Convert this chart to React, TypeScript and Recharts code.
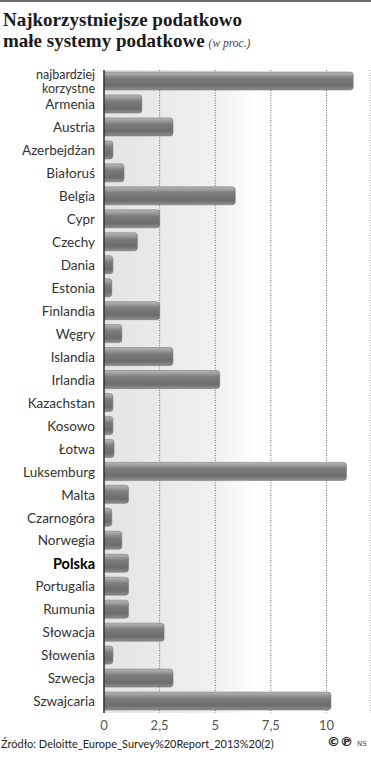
import { BarChart, Bar, XAxis, YAxis, CartesianGrid } from 'recharts';

// ── Data ──────────────────────────────────────────────────────────────────────

const COUNTRIES: string[] = [
  'najbardziej korzystne',
  'Armenia',
  'Austria',
  'Azerbejdżan',
  'Białoruś',
  'Belgia',
  'Cypr',
  'Czechy',
  'Dania',
  'Estonia',
  'Finlandia',
  'Węgry',
  'Islandia',
  'Irlandia',
  'Kazachstan',
  'Kosowo',
  'Łotwa',
  'Luksemburg',
  'Malta',
  'Czarnogóra',
  'Norwegia',
  'Polska',
  'Portugalia',
  'Rumunia',
  'Słowacja',
  'Słowenia',
  'Szwecja',
  'Szwajcaria',
];

const VALUES: number[] = [
  11.2, 1.7, 3.1, 0.4, 0.9, 5.9, 2.5, 1.5, 0.4, 0.35, 2.5, 0.8, 3.1, 5.2, 0.4, 0.4,
  0.45, 10.9, 1.1, 0.35, 0.8, 1.1, 1.1, 1.1, 2.7, 0.4, 3.1, 10.2,
];

const X_TICKS: number[] = [0, 2.5, 5, 7.5, 10];

const HIGHLIGHT = 'Polska';

const data = COUNTRIES.map((name, i) => ({ name, value: VALUES[i] }));

const LABEL_FONT = 'Lato, "Open Sans", sans-serif';
const TITLE_FONT = '"Liberation Serif", serif';

// ── Custom y tick ─────────────────────────────────────────────────────────────

function CountryTick(props: any) {
  const { x, y, payload } = props;
  const label: string = payload.value;
  const bold = label === HIGHLIGHT;

  // the first category is broken onto two lines
  if (label === 'najbardziej korzystne') {
    return (
      <text x={x - 1} y={y} textAnchor="end" fontFamily={LABEL_FONT} fontSize={12.5} fill="#333">
        <tspan x={x - 1} dy={-2.7}>najbardziej</tspan>
        <tspan x={x - 1} dy={14}>korzystne</tspan>
      </text>
    );
  }

  return (
    <text
      x={x - 1}
      y={y}
      dy="0.35em"
      textAnchor="end"
      fontFamily={LABEL_FONT}
      fontSize={bold ? 14.5 : 13.5}
      fontWeight={bold ? 700 : 400}
      fill={bold ? '#000' : '#333'}
    >
      {label}
    </text>
  );
}

// ── Component ─────────────────────────────────────────────────────────────────

export default function App() {
  return (
    <div style={{ position: 'relative', width: 371, height: 760, background: '#fff', overflow: 'hidden' }}>
      <style>{'body{margin:0}'}</style>

      {/* top rule + title */}
      <svg width={371} height={60} style={{ position: 'absolute', left: 0, top: 0 }}>
        <rect x={0} y={0} width={371} height={2} fill="#6a6a6a" />
        <text x={3} y={26} fontFamily={TITLE_FONT} fontWeight={700} fontSize={19} fill="#1a1a1a">
          Najkorzystniejsze podatkowo
        </text>
        <text x={3} y={47} fontFamily={TITLE_FONT} fontWeight={700} fontSize={19} fill="#1a1a1a">
          małe systemy podatkowe
          <tspan dx={4} fontStyle="italic" fontWeight={400} fontSize={11.5} fill="#444">
            (w proc.)
          </tspan>
        </text>
      </svg>

      {/* chart */}
      <div style={{ position: 'absolute', left: 0, top: 60 }}>
        <BarChart
          width={371}
          height={690}
          data={data}
          layout="vertical"
          margin={{ top: 10, right: 0, left: 0, bottom: 0 }}
          barCategoryGap={0}
        >
          <defs>
            <linearGradient id="bgGrad" x1="0" y1="0" x2="1" y2="0">
              <stop offset="0%" stopColor="#e4e4e4" />
              <stop offset="40%" stopColor="#efefef" />
              <stop offset="58%" stopColor="#ffffff" />
              <stop offset="100%" stopColor="#ffffff" />
            </linearGradient>
            <linearGradient id="barGrad" x1="0" y1="0" x2="0" y2="1">
              <stop offset="0%" stopColor="#b8b8b8" />
              <stop offset="35%" stopColor="#7c7c7c" />
              <stop offset="75%" stopColor="#6c6c6c" />
              <stop offset="100%" stopColor="#8e8e8e" />
            </linearGradient>
          </defs>

          <CartesianGrid
            horizontal={false}
            stroke="#6a6a6a"
            strokeDasharray="1 1.5"
            fill="url(#bgGrad)"
            fillOpacity={1}
          />

          <XAxis
            type="number"
            domain={[0, 12]}
            ticks={X_TICKS}
            allowDataOverflow
            height={37}
            axisLine={false}
            tickLine={false}
            tick={{ fill: '#555', fontSize: 13, fontFamily: LABEL_FONT }}
            tickFormatter={(v: number) => String(v).replace('.', ',')}
          />

          <YAxis
            type="category"
            dataKey="name"
            width={104}
            interval={0}
            axisLine={{ stroke: '#333', strokeWidth: 1.5 }}
            tickLine={false}
            tick={<CountryTick />}
          />

          <Bar
            dataKey="value"
            barSize={18}
            fill="url(#barGrad)"
            stroke="#6a6a6a"
            strokeWidth={0.5}
            radius={[0, 3, 3, 0]}
            isAnimationActive={false}
          />
        </BarChart>
      </div>

      {/* footer */}
      <div
        style={{
          position: 'absolute',
          left: 1,
          top: 737,
          fontFamily: LABEL_FONT,
          fontSize: 11,
          color: '#222',
          whiteSpace: 'nowrap',
        }}
      >
        Źródło: Deloitte_Europe_Survey%20Report_2013%20(2)
      </div>
      <div
        style={{
          position: 'absolute',
          left: 327,
          top: 734,
          fontFamily: '"DejaVu Sans", sans-serif',
          fontSize: 13,
          fontWeight: 700,
          color: '#222',
          whiteSpace: 'nowrap',
        }}
      >
        ©℗<span style={{ fontSize: 7, fontWeight: 400, marginLeft: 4, color: '#444' }}>NS</span>
      </div>
    </div>
  );
}
